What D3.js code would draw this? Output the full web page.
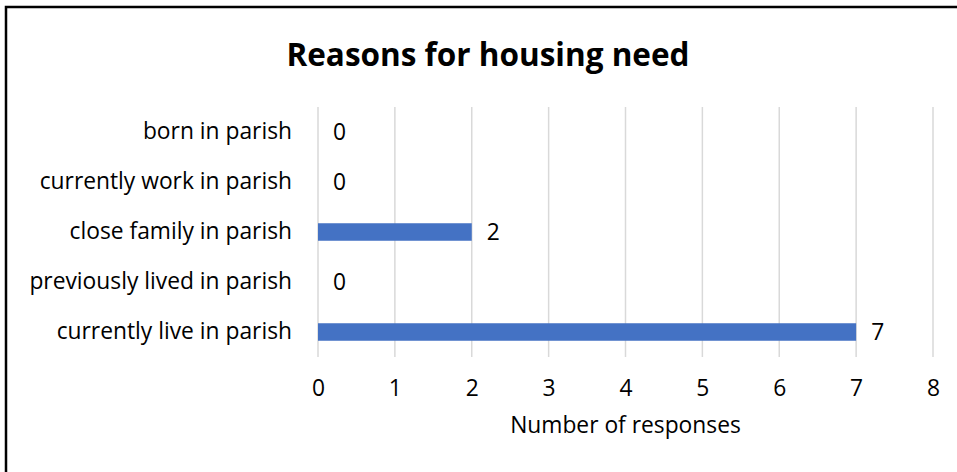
<!DOCTYPE html>
<html>
<head>
<meta charset="utf-8">
<script src="https://cdn.jsdelivr.net/npm/d3@7"></script>
<style>
  body { margin: 0; background: #fff; }
  svg text { font-family: "Open Sans", sans-serif; fill: #000; }
</style>
</head>
<body>
<svg id="chart" width="957" height="472"></svg>
<script>
const categories = ["born in parish", "currently work in parish", "close family in parish",
  "previously lived in parish", "currently live in parish"];
const values = [0, 0, 2, 0, 7];
const xTicks = [0, 1, 2, 3, 4, 5, 6, 7, 8];

const svg = d3.select("#chart");
const width = +svg.attr("width");
const height = +svg.attr("height");

//outer frame, runs off right and bottom
svg.append("rect")
  .attr("x", 6).attr("y", 7)
  .attr("width", width + 10).attr("height", height + 10)
  .attr("fill", "#fff")
  .attr("stroke", "#000")
  .attr("stroke-width", 2.5);

const margin = { top: 107, left: 318, right: 24, bottom: 115 };
const innerW = width - margin.left - margin.right;
const innerH = height - margin.top - margin.bottom;
const fs = 22.8;

const g = svg.append("g").attr("transform", `translate(${margin.left},${margin.top})`);

const x = d3.scaleLinear().domain([0, 8]).range([0, innerW]);
const y = d3.scaleBand().domain(categories).range([0, innerH]).paddingInner(0.65).paddingOuter(0.325);

//gridlines
g.selectAll("line.grid")
  .data(xTicks)
  .join("line")
  .attr("class", "grid")
  .attr("x1", d => x(d)).attr("x2", d => x(d))
  .attr("y1", 0).attr("y2", innerH)
  .attr("stroke", "#d9d9d9")
  .attr("stroke-width", 1.5);

//x tick labels
const xAxis = g.append("g")
  .attr("transform", `translate(0,${innerH})`)
  .call(d3.axisBottom(x).tickValues(xTicks).tickSize(0).tickPadding(23));
xAxis.select(".domain").remove();
xAxis.selectAll("text").attr("font-size", fs).attr("font-family", "'Open Sans', sans-serif");

//category labels
const yAxis = g.append("g")
  .call(d3.axisLeft(y).tickSize(0).tickPadding(26));
yAxis.select(".domain").remove();
yAxis.selectAll("text").attr("font-size", fs).attr("font-family", "'Open Sans', sans-serif");

//bars
g.selectAll("rect.bar")
  .data(values)
  .join("rect")
  .attr("class", "bar")
  .attr("x", 0)
  .attr("y", (d, i) => y(categories[i]))
  .attr("width", d => x(d))
  .attr("height", y.bandwidth())
  .attr("fill", "#4472c4");

//value labels
g.selectAll("text.val")
  .data(values)
  .join("text")
  .attr("class", "val")
  .attr("x", d => x(d) + 15)
  .attr("y", (d, i) => y(categories[i]) + y.bandwidth() / 2)
  .attr("dy", "0.35em")
  .attr("font-size", fs)
  .text(d => d);

//axis title
svg.append("text")
  .attr("x", margin.left + innerW / 2)
  .attr("y", 433)
  .attr("text-anchor", "middle")
  .attr("font-size", fs)
  .text("Number of responses");

//title
svg.append("text")
  .attr("x", 488)
  .attr("y", 66)
  .attr("text-anchor", "middle")
  .attr("font-size", 31.5)
  .attr("font-weight", "bold")
  .attr("font-family", "Lato, sans-serif")
  .text("Reasons for housing need");
</script>
</body>
</html>
